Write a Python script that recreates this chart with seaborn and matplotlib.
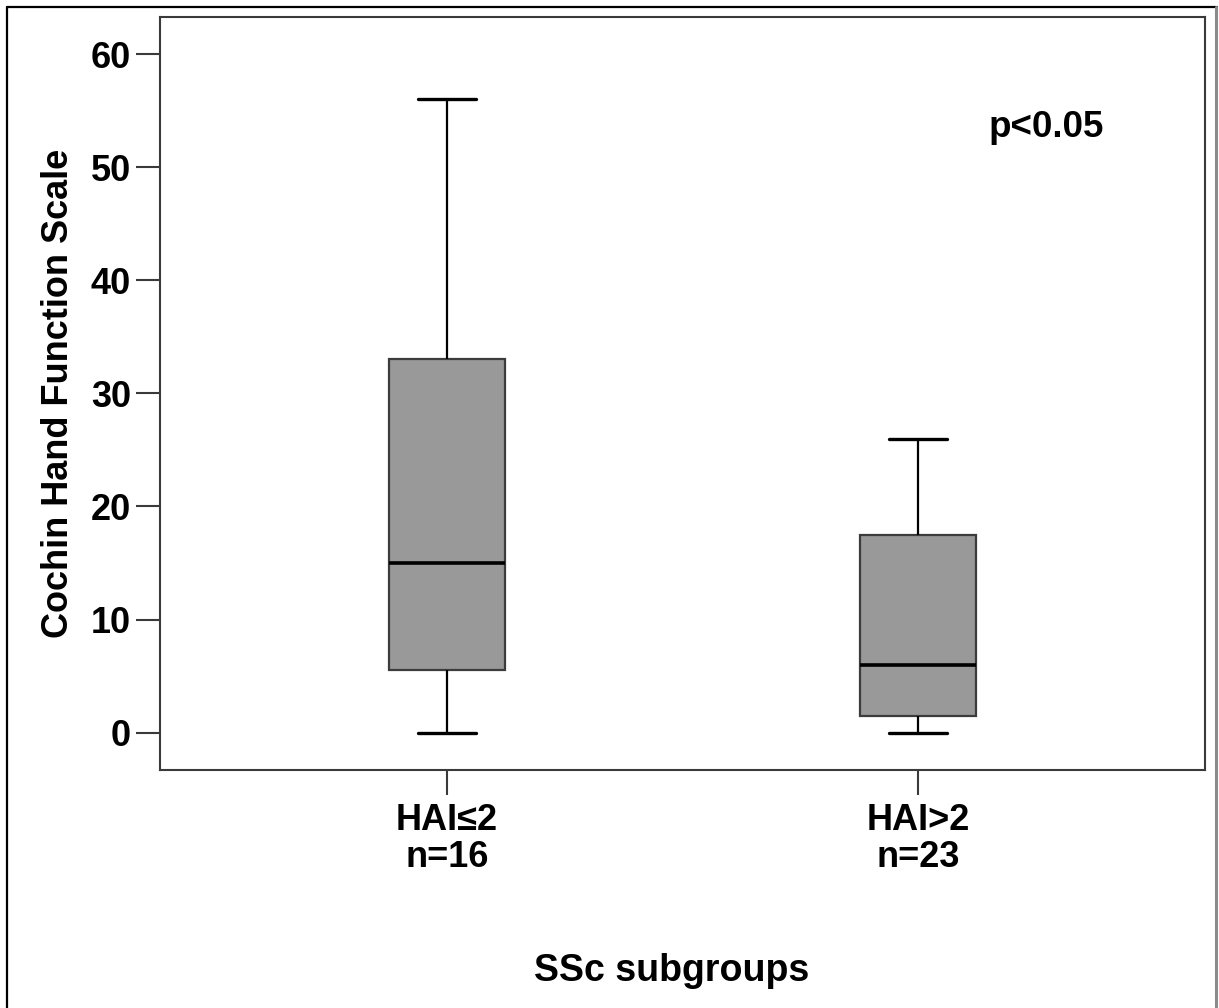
import matplotlib
matplotlib.use("Agg")
import matplotlib.pyplot as plt
from matplotlib.lines import Line2D
import seaborn as sns
import pandas as pd

# Five-number summaries (min, Q1, median, Q3, max)
groups = ["HAI\u22642\nn=16", "HAI>2\nn=23"]
hai_le2_values = [0, 5.5, 15, 33, 56]
hai_gt2_values = [0, 1.5, 6, 17.5, 26]
y_ticks = [0, 10, 20, 30, 40, 50, 60]
y_label = "Cochin Hand Function Scale"
x_label = "SSc subgroups"
annotation = "p<0.05"

df = pd.DataFrame({
    "group": [groups[0]] * len(hai_le2_values) + [groups[1]] * len(hai_gt2_values),
    "value": hai_le2_values + hai_gt2_values,
})

sns.set_style("white")
plt.rcParams["font.family"] = ["Liberation Sans", "DejaVu Sans"]
plt.rcParams["font.weight"] = "bold"
plt.rcParams["text.color"] = "black"
plt.rcParams["axes.labelcolor"] = "black"
plt.rcParams["xtick.labelcolor"] = "black"
plt.rcParams["ytick.labelcolor"] = "black"

fig = plt.figure(figsize=(12.19, 10.08), dpi=100)
ax = fig.add_axes([160 / 1219, 1 - 770 / 1008, 1045 / 1219, 753 / 1008])

sns.boxplot(
    data=df, x="group", y="value", order=groups, ax=ax,
    width=0.245, color="#999999", saturation=1, whis=1.5,
    boxprops=dict(facecolor="#999999", edgecolor="#3c3c3c", linewidth=1.6),
    medianprops=dict(color="black", linewidth=2.6),
    whiskerprops=dict(color="black", linewidth=1.6),
    capprops=dict(color="black", linewidth=2.4),
    showfliers=False,
)

ax.set_xlim(-0.609, 1.609)
ax.set_ylim(-3.3, 63.28)
ax.set_yticks(y_ticks)
ax.set_yticklabels([str(t) for t in y_ticks])

for side in ["left", "right", "top", "bottom"]:
    ax.spines[side].set_visible(True)
    ax.spines[side].set_color("#3a3a3a")
    ax.spines[side].set_linewidth(1.5)

ax.tick_params(axis="y", which="major", direction="out", length=17, width=1.5,
               color="#3a3a3a", labelcolor="black", pad=4, labelsize=26, left=True)
ax.tick_params(axis="x", which="major", direction="out", length=18, width=1.5,
               color="#3a3a3a", labelcolor="black", pad=6, labelsize=26, bottom=True)
for lab in ax.get_xticklabels():
    lab.set_fontweight("bold")
    lab.set_linespacing(1.05)
for lab in ax.get_yticklabels():
    lab.set_fontweight("bold")

ax.set_ylabel(y_label, fontsize=26, fontweight="bold", color="black")
ax.yaxis.set_label_coords(-0.08, 0.5)
ax.set_xlabel(x_label, fontsize=27, fontweight="bold", color="black")
ax.xaxis.set_label_coords(0.49, -0.243)

ax.text(1.272, 53.5, annotation, fontsize=26.5, fontweight="bold",
        ha="center", va="center", color="black")

# outer frame
fig.add_artist(Line2D([7 / 1219, 7 / 1219], [0, 1 - 7 / 1008], transform=fig.transFigure,
                      color="black", linewidth=1.6))
fig.add_artist(Line2D([7 / 1219, 1217 / 1219], [1 - 7 / 1008, 1 - 7 / 1008],
                      transform=fig.transFigure, color="black", linewidth=1.6))
fig.add_artist(Line2D([1216 / 1219, 1216 / 1219], [0, 1 - 7 / 1008], transform=fig.transFigure,
                      color="#8a8a8a", linewidth=2.2))

fig.savefig("out.png", dpi=100, facecolor="white")
